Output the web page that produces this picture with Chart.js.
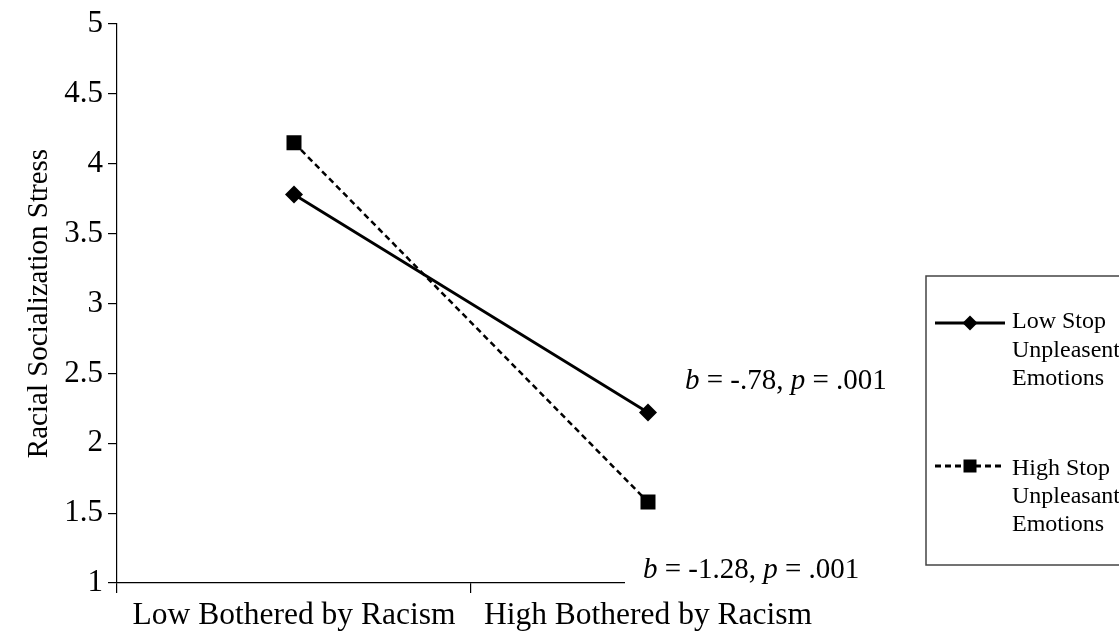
<!DOCTYPE html>
<html><head><meta charset="utf-8">
<script src="https://cdn.jsdelivr.net/npm/chart.js@4.4.0/dist/chart.umd.min.js"></script>
<style>html,body{margin:0;padding:0;background:#fff;}#wrap{width:1119px;height:634px;}</style>
</head><body><div id="wrap"><canvas id="c" width="1119" height="634"></canvas></div>
<script>
const categories = ['Low Bothered by Racism', 'High Bothered by Racism'];
const lowStop = [3.78, 2.22];
const highStop = [4.15, 1.58];
const seriesLabels = [['Low Stop', 'Unpleasent', 'Emotions'], ['High Stop', 'Unpleasant', 'Emotions']];
const yTitle = 'Racial Socialization Stress';
const annotLow = [['b', true], [' = -.78, ', false], ['p', true], [' = .001', false]];
const annotHigh = [['b', true], [' = -1.28, ', false], ['p', true], [' = .001', false]];

const FONT = "'Liberation Serif', 'Times New Roman', serif";

function drawMarker(ctx, style, x, y, r) {
  ctx.save();
  ctx.fillStyle = '#000';
  ctx.beginPath();
  if (style === 'rectRot') {
    ctx.moveTo(x, y - r); ctx.lineTo(x + r, y); ctx.lineTo(x, y + r); ctx.lineTo(x - r, y);
    ctx.closePath();
  } else {
    ctx.rect(x - r, y - r, 2 * r, 2 * r);
  }
  ctx.fill();
  ctx.restore();
}

function drawParts(ctx, parts, x, y, size) {
  let cx = x;
  for (const [t, it] of parts) {
    ctx.font = (it ? 'italic ' : '') + size + 'px ' + FONT;
    ctx.fillText(t, cx, y);
    cx += ctx.measureText(t).width;
  }
  return cx;
}

const overlay = {
  id: 'overlay',
  afterDraw(chart) {
    const ctx = chart.ctx;
    const xs = chart.scales.x, ys = chart.scales.y;
    ctx.save();
    ctx.textBaseline = 'middle';
    ctx.textAlign = 'left';
    ctx.fillStyle = '#000';
    const px = xs.getPixelForValue(1);
    drawParts(ctx, annotLow, px + 37, ys.getPixelForValue(lowStop[1]) - 31, 29);
    const ax = px - 5, ay = ys.getPixelForValue(highStop[1]) + 68;
    ctx.fillStyle = '#fff';
    ctx.fillRect(ax - 18, ay - 16, 250, 42);
    ctx.fillStyle = '#000';
    drawParts(ctx, annotHigh, ax, ay, 29);

    ctx.strokeStyle = '#444';
    ctx.lineWidth = 1.5;
    ctx.strokeRect(926, 276, 300, 289);
    const ds = chart.data.datasets;
    const rows = [323, 466];
    const textRows = [[322, 351, 379], [469, 497, 525]];
    ds.forEach((d, i) => {
      const y = rows[i];
      ctx.save();
      ctx.strokeStyle = '#000';
      ctx.lineWidth = 3;
      ctx.setLineDash(d.borderDash || []);
      ctx.beginPath(); ctx.moveTo(935, y); ctx.lineTo(1005, y); ctx.stroke();
      ctx.restore();
      drawMarker(ctx, d.pointStyle, 970, y, d.pointStyle === 'rect' ? 6.5 : 7.5);
      ctx.font = '24px ' + FONT;
      ctx.fillStyle = '#000';
      seriesLabels[i].forEach((t, j) => ctx.fillText(t, 1012, textRows[i][j]));
    });
    ctx.restore();
  }
};

new Chart(document.getElementById('c'), {
  type: 'line',
  data: {
    labels: categories,
    datasets: [
      { label: seriesLabels[0].join(' '), data: lowStop, borderColor: '#000', backgroundColor: '#000',
        borderWidth: 2.8, pointStyle: 'rectRot', pointRadius: 9, pointBorderWidth: 0, fill: false, tension: 0 },
      { label: seriesLabels[1].join(' '), data: highStop, borderColor: '#000', backgroundColor: '#000',
        borderWidth: 2.5, borderDash: [6, 4], pointStyle: 'rect', pointRadius: 10.6, pointBorderWidth: 0, fill: false, tension: 0 }
    ]
  },
  options: {
    responsive: false,
    animation: false,
    devicePixelRatio: 1,
    layout: { padding: { top: 24, right: 294, left: 0, bottom: 0 } },
    plugins: { legend: { display: false }, tooltip: { enabled: false } },
    scales: {
      x: {
        type: 'category',
        offset: true,
        grid: { display: true, drawOnChartArea: false, drawTicks: true, tickLength: 10, color: '#000', offset: true, lineWidth: 1.2 },
        border: { display: true, color: '#000', width: 1.2 },
        ticks: { font: { family: FONT, size: 31.5 }, color: '#000', padding: 4, maxRotation: 0, autoSkip: false },
        afterFit: s => { s.height = 51; }
      },
      y: {
        min: 1, max: 5,
        ticks: { stepSize: 0.5, font: { family: FONT, size: 31 }, color: '#000', padding: 5, callback: v => String(v) },
        grid: { display: true, drawOnChartArea: false, drawTicks: true, tickLength: 9, color: '#000', lineWidth: 1.2 },
        border: { display: true, color: '#000', width: 1.2 },
        title: { display: true, text: yTitle, font: { family: FONT, size: 29 }, color: '#000', padding: { top: 22, bottom: 0 } },
        afterFit: s => { s.width = 117; }
      }
    }
  },
  plugins: [overlay]
});
</script>
</body></html>
